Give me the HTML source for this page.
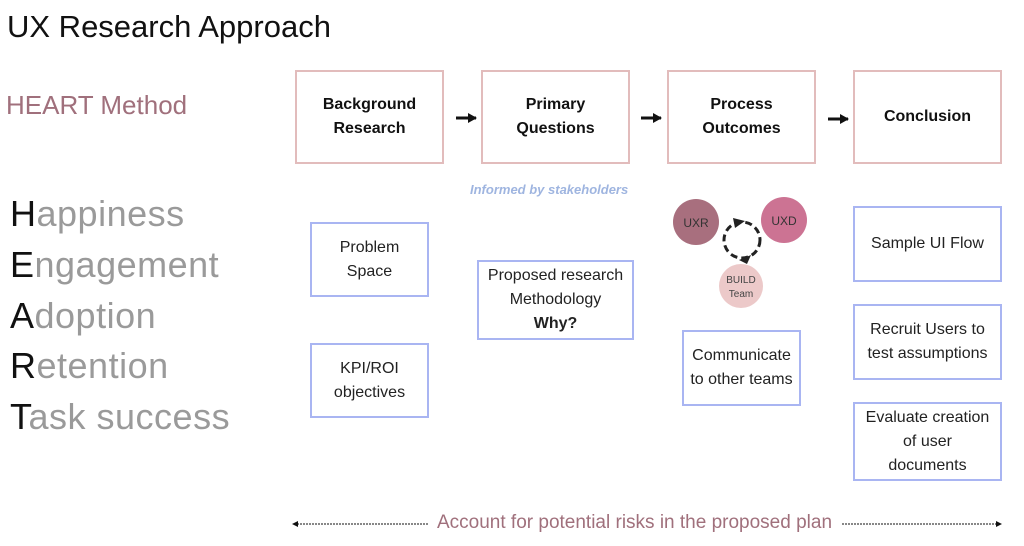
<!DOCTYPE html>
<html><head><style>
body{margin:0;width:1024px;height:546px;background:#fff;position:relative;overflow:hidden;font-family:"Liberation Sans",sans-serif}
.a{position:absolute}
.pk{position:absolute;border:2px solid #e2bcbc;box-sizing:border-box;display:flex;align-items:center;justify-content:center;text-align:center;font-weight:bold;font-size:16px;line-height:24px;color:#111}
.bl{position:absolute;border:2px solid #a9b5f2;box-sizing:border-box;display:flex;align-items:center;justify-content:center;text-align:center;font-size:16px;line-height:24px;color:#222}
.h{position:absolute;left:10px;font-size:36px;color:#9a9a9a;letter-spacing:0.5px;line-height:40px}
.h b{font-weight:normal;color:#111}
</style></head><body>
<div class="a" style="left:7px;top:9px;font-size:31px;color:#111">UX Research Approach</div>
<div class="a" style="left:6px;top:90px;font-size:26px;color:#a0707c">HEART Method</div>
<div class="h" style="top:194px"><b>H</b>appiness</div>
<div class="h" style="top:245px"><b>E</b>ngagement</div>
<div class="h" style="top:296px"><b>A</b>doption</div>
<div class="h" style="top:346px"><b>R</b>etention</div>
<div class="h" style="top:397px"><b>T</b>ask success</div>

<div class="pk" style="left:295px;top:70px;width:149px;height:94px"><span>Background<br>Research</span></div>
<div class="pk" style="left:481px;top:70px;width:149px;height:94px"><span>Primary<br>Questions</span></div>
<div class="pk" style="left:667px;top:70px;width:149px;height:94px"><span>Process<br>Outcomes</span></div>
<div class="pk" style="left:853px;top:70px;width:149px;height:94px"><span>Conclusion</span></div>
<svg class="a" style="left:0;top:0" width="1024" height="546">
<defs><marker id="m" markerUnits="userSpaceOnUse" markerWidth="10" markerHeight="10" refX="8" refY="5" orient="auto"><path d="M0,0 L9,5 L0,10z" fill="#111"/></marker>
<marker id="s" markerUnits="userSpaceOnUse" markerWidth="6" markerHeight="6" refX="5" refY="3" orient="auto"><path d="M0,0 L6,3 L0,6z" fill="#111"/></marker></defs>
<line x1="456" y1="118" x2="476" y2="118" stroke="#111" stroke-width="3" marker-end="url(#m)"/>
<line x1="641" y1="118" x2="661" y2="118" stroke="#111" stroke-width="3" marker-end="url(#m)"/>
<line x1="828" y1="119" x2="848" y2="119" stroke="#111" stroke-width="3" marker-end="url(#m)"/>
<circle cx="696" cy="222" r="23" fill="#a86f7e"/>
<circle cx="784" cy="220" r="23" fill="#cc7393"/>
<circle cx="741" cy="286" r="22" fill="#ecc9c9"/>
<circle cx="742" cy="240" r="18" fill="none" stroke="#222" stroke-width="3" stroke-dasharray="7,4"/>
<path d="M733,218 L745,221 L735,228z" fill="#222"/>
<path d="M751,255 L739,260 L747,264z" fill="#222"/>
<text x="696" y="227" font-size="12" fill="#333" text-anchor="middle" font-family="Liberation Sans">UXR</text>
<text x="784" y="225" font-size="12" fill="#333" text-anchor="middle" font-family="Liberation Sans">UXD</text>
<text x="741" y="283" font-size="10" fill="#444" text-anchor="middle" font-family="Liberation Sans">BUILD</text>
<text x="741" y="297" font-size="10" fill="#444" text-anchor="middle" font-family="Liberation Sans">Team</text>
<line x1="428" y1="524" x2="293" y2="524" stroke="#111" stroke-width="1" stroke-dasharray="2,1" marker-end="url(#s)"/>
<line x1="842" y1="524" x2="1001" y2="524" stroke="#111" stroke-width="1" stroke-dasharray="2,1" marker-end="url(#s)"/>
</svg>
<div class="a" style="left:470px;top:182px;font-size:13px;font-weight:bold;font-style:italic;color:#9fb5e0">Informed by stakeholders</div>

<div class="bl" style="left:310px;top:222px;width:119px;height:75px"><span>Problem<br>Space</span></div>
<div class="bl" style="left:310px;top:343px;width:119px;height:75px"><span>KPI/ROI<br>objectives</span></div>
<div class="bl" style="left:477px;top:260px;width:157px;height:80px"><span>Proposed research<br>Methodology<br><b>Why?</b></span></div>
<div class="bl" style="left:682px;top:330px;width:119px;height:76px"><span>Communicate<br>to other teams</span></div>
<div class="bl" style="left:853px;top:206px;width:149px;height:76px"><span>Sample UI Flow</span></div>
<div class="bl" style="left:853px;top:304px;width:149px;height:76px"><span>Recruit Users to<br>test assumptions</span></div>
<div class="bl" style="left:853px;top:402px;width:149px;height:79px"><span>Evaluate creation<br>of user<br>documents</span></div>

<div class="a" style="left:437px;top:512px;font-size:19px;color:#a0707c;white-space:nowrap">Account for potential risks in the proposed plan</div>
</body></html>
